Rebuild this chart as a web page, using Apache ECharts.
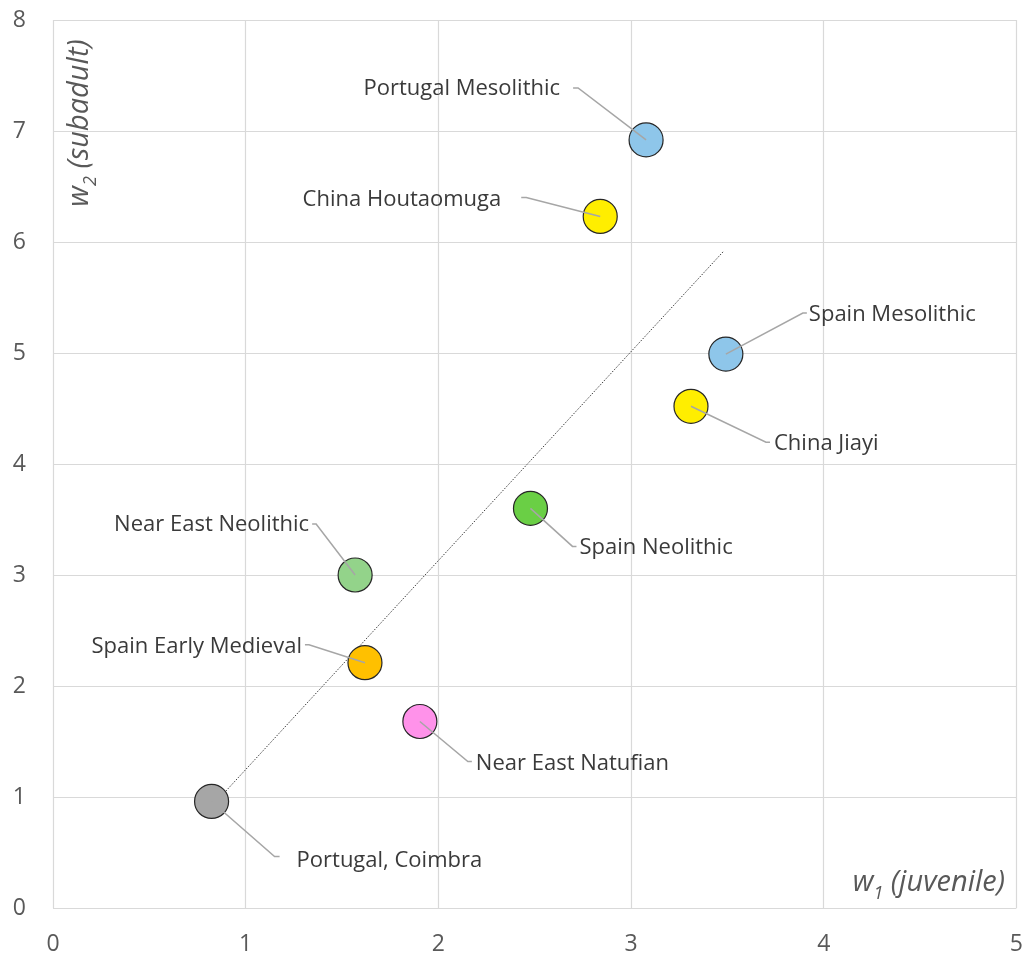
<!DOCTYPE html>
<html>
<head>
<meta charset="utf-8">
<script src="https://cdn.jsdelivr.net/npm/echarts@6/dist/echarts.min.js"></script>
<style>
html,body{margin:0;padding:0;background:#fff;}
#chart{width:1026px;height:960px;}
</style>
</head>
<body>
<div id="chart"></div>
<script>
// ---- data ----
const names = ['Portugal Mesolithic','China Houtaomuga','Spain Mesolithic','China Jiayi','Spain Neolithic','Near East Neolithic','Spain Early Medieval','Near East Natufian','Portugal, Coimbra'];
const w1 = [3.078, 2.840, 3.492, 3.311, 2.478, 1.568, 1.619, 1.904, 0.823];
const w2 = [6.92, 6.23, 4.99, 4.52, 3.60, 3.00, 2.21, 1.68, 0.96];
const trendX = [0.823, 3.482];
const trendY = [0.914, 5.92];
const xTicks = [0, 1, 2, 3, 4, 5];
const yTicks = [0, 1, 2, 3, 4, 5, 6, 7, 8];

// ---- styles ----
const colors = ['#8ec6ea','#ffee00','#8ec6ea','#ffee00','#6acf45','#93d38a','#ffc000','#ff92ea','#a6a6a6'];
// leader line layout in pixels: [elbowDx, elbowDy, endDx, textDx, textDy, align]
const labelLayout = [
  [-68,-52,-73,-86,-51,'right'],
  [-74,-19,-79,-99,-17,'right'],
  [77,-41,81,83,-39,'left'],
  [75,36,79,83,37,'left'],
  [42,38,46,49,39,'left'],
  [-39,-51,-43,-46,-50,'right'],
  [-56,-18,-60,-63,-16,'right'],
  [48,40,52,56,42,'left'],
  [63,55,68,85,59,'left']
];

const FONT = '"Open Sans", "Noto Sans", sans-serif';
const chart = echarts.init(document.getElementById('chart'));

const points = w1.map((x, i) => ({
  value: [x, w2[i]],
  itemStyle: { color: colors[i] }
}));

const titleRich = {
  i: { fontSize: 29, fontStyle: 'italic', fill: '#595959', fontFamily: FONT, verticalAlign: 'bottom' },
  s: { fontSize: 18, fontStyle: 'italic', fill: '#595959', fontFamily: FONT, verticalAlign: 'bottom', padding: [0, 0, -5, 0] }
};

chart.setOption({
  animation: false,
  backgroundColor: '#ffffff',
  grid: { left: 53, right: 7, top: 20, bottom: 52, containLabel: false },
  xAxis: {
    type: 'value', min: xTicks[0], max: xTicks[xTicks.length-1], interval: 1,
    axisLine: { show: false }, axisTick: { show: false },
    splitLine: { show: true, lineStyle: { color: '#d9d9d9', width: 1.2 } },
    axisLabel: { color: '#595959', fontSize: 23, fontFamily: FONT, margin: 25 }
  },
  yAxis: {
    type: 'value', min: yTicks[0], max: yTicks[yTicks.length-1], interval: 1,
    axisLine: { show: false }, axisTick: { show: false },
    splitLine: { show: true, lineStyle: { color: '#d9d9d9', width: 1.2 } },
    axisLabel: { color: '#595959', fontSize: 23, fontFamily: FONT, margin: 27 }
  },
  series: [
    {
      type: 'line',
      data: trendX.map((x, i) => [x, trendY[i]]),
      symbol: 'none',
      lineStyle: { color: '#404040', width: 1, type: [1.5, 1.5] },
      z: 2
    },
    {
      type: 'scatter',
      data: points,
      symbolSize: 34,
      itemStyle: { borderColor: '#262626', borderWidth: 1.2, opacity: 1 },
      z: 3
    },
    {
      type: 'custom',
      data: w1.map((x, i) => [x, w2[i]]),
      z: 4,
      renderItem: function (params, api) {
        const i = params.dataIndex;
        const p = api.coord([api.value(0), api.value(1)]);
        const L = labelLayout[i];
        return {
          type: 'group',
          children: [
            {
              type: 'polyline',
              shape: { points: [[p[0], p[1]], [p[0] + L[0], p[1] + L[1]], [p[0] + L[2], p[1] + L[1]]] },
              style: { stroke: '#a6a6a6', lineWidth: 1.5, fill: null }
            },
            {
              type: 'text',
              x: p[0] + L[3], y: p[1] + L[4],
              style: {
                text: names[i], fill: '#3a3a3a', fontSize: 22, fontFamily: FONT,
                align: L[5], verticalAlign: 'middle'
              }
            }
          ]
        };
      }
    }
  ],
  graphic: [
    {
      type: 'text', x: 80, y: 123, rotation: Math.PI / 2,
      style: {
        text: '{i|w}{s|2}{i| (subadult)}',
        align: 'center', verticalAlign: 'middle',
        rich: titleRich
      }
    },
    {
      type: 'text', x: 1005, y: 883,
      style: {
        text: '{i|w}{s|1}{i| (juvenile)}',
        align: 'right', verticalAlign: 'middle',
        rich: titleRich
      }
    }
  ]
});
</script>
</body>
</html>
